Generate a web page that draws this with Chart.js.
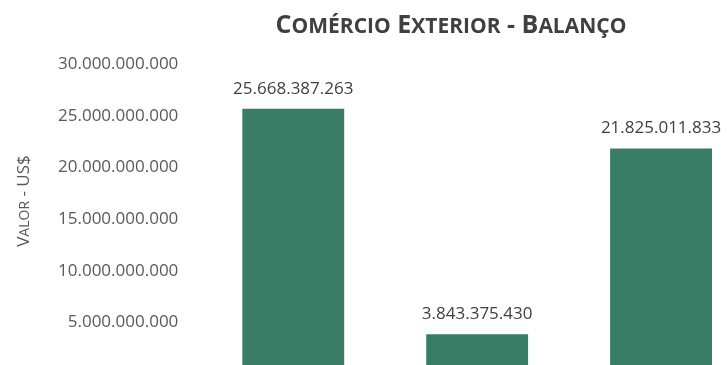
<!DOCTYPE html>
<html>
<head>
<meta charset="utf-8">
<script src="https://cdn.jsdelivr.net/npm/chart.js@4"></script>
<style>
  html, body { margin: 0; padding: 0; background: #fff; overflow: hidden; }
  #wrap { position: absolute; left: 0; top: 0; width: 902px; height: 406px; }
</style>
</head>
<body>
<div id="wrap"><canvas id="balancoChart"></canvas></div>
<script>
const categorias = ['Exportações', 'Importações', 'Saldo'];
const valores = [25668387263, 3843375430, 21825011833];
const eixoY = { min: 0, max: 30000000000, passo: 5000000000 };

const titulo = 'Comércio Exterior - Balanço';
const tituloEixoY = 'Valor - US$';

// 25668387263 -> "25.668.387.263"
function formatarNumero(n) {
    return String(Math.round(n)).replace(/\B(?=(\d{3})+(?!\d))/g, '.');
}

const fonte = "'Open Sans', sans-serif";

// versalete: minúsculas viram maiúsculas menores
function partesVersalete(texto, tam, tamMenor) {
    const partes = [];
    for (const ch of texto) {
        const menor = ch !== ch.toUpperCase();
        const t = menor ? tamMenor : tam;
        const ult = partes[partes.length - 1];
        if (ult && ult.tam === t) ult.txt += ch.toUpperCase();
        else partes.push({ txt: ch.toUpperCase(), tam: t });
    }
    return partes;
}

function desenharVersalete(ctx, texto, x, y, tam, tamMenor, peso) {
    const partes = partesVersalete(texto, tam, tamMenor);
    let largura = 0;
    partes.forEach(p => {
        ctx.font = peso + ' ' + p.tam + 'px ' + fonte;
        p.w = ctx.measureText(p.txt).width;
        largura += p.w;
    });
    ctx.textAlign = 'left';
    ctx.textBaseline = 'alphabetic';
    let cx = x - largura / 2;
    partes.forEach(p => {
        ctx.font = peso + ' ' + p.tam + 'px ' + fonte;
        ctx.fillText(p.txt, cx, y);
        cx += p.w;
    });
}

// título do gráfico e do eixo Y
const titulos = {
    id: 'titulos',
    afterDraw(chart) {
        const ctx = chart.ctx;
        const area = chart.chartArea;
        ctx.save();
        ctx.fillStyle = '#404040';
        desenharVersalete(ctx, titulo, chart.width / 2, 33, 25, 21, 'bold');
        ctx.restore();

        ctx.save();
        ctx.fillStyle = '#595959';
        ctx.translate(29, (area.top + area.bottom) / 2 - 18);
        ctx.rotate(-Math.PI / 2);
        desenharVersalete(ctx, tituloEixoY, 0, 0, 17, 14, 'normal');
        ctx.restore();
    }
};

// rótulos de valor acima de cada barra
const rotulosValor = {
    id: 'rotulosValor',
    afterDatasetsDraw(chart) {
        const ctx = chart.ctx;
        ctx.save();
        ctx.font = '17px ' + fonte;
        ctx.fillStyle = '#404040';
        ctx.textAlign = 'center';
        ctx.textBaseline = 'middle';
        chart.getDatasetMeta(0).data.forEach((bar, i) => {
            ctx.fillText(formatarNumero(chart.data.datasets[0].data[i]), bar.x, bar.y - 20);
        });
        ctx.restore();
    }
};

const ctx = document.getElementById('balancoChart').getContext('2d');
new Chart(ctx, {
    type: 'bar',
    data: {
        labels: categorias,
        datasets: [{
            label: tituloEixoY,
            data: valores,
            backgroundColor: '#3a7d67',
            borderWidth: 0,
            barPercentage: 0.554,
            categoryPercentage: 1
        }]
    },
    options: {
        responsive: true,
        maintainAspectRatio: false,
        animation: false,
        layout: { padding: { left: 43, right: 149, top: 64, bottom: 0 } },
        plugins: {
            legend: { display: false },
            tooltip: { enabled: false },
            title: { display: false }
        },
        scales: {
            x: {
                grid: { display: false },
                border: { display: false },
                ticks: { color: '#595959', font: { family: fonte, size: 15 } }
            },
            y: {
                min: eixoY.min,
                max: eixoY.max,
                grid: { display: false },
                border: { display: false },
                ticks: {
                    stepSize: eixoY.passo,
                    color: '#595959',
                    padding: 15,
                    font: { family: fonte, size: 17 },
                    callback: v => formatarNumero(v)
                }
            }
        }
    },
    plugins: [rotulosValor, titulos]
});
</script>
</body>
</html>
